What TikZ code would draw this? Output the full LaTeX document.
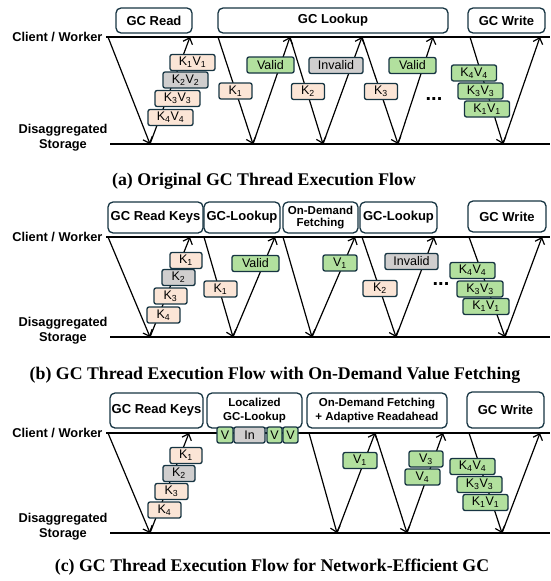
\documentclass[tikz,border=0pt]{standalone}
\usepackage{fontspec}
\setmainfont{Liberation Serif}
\setsansfont{Liberation Sans}
\usetikzlibrary{arrows.meta}

\definecolor{edge}{RGB}{22,52,66}
\definecolor{kfill}{RGB}{251,229,214}
\definecolor{gfill}{RGB}{208,206,206}
\definecolor{vfill}{RGB}{178,224,158}

\newcommand{\kvpair}[1]{K\textsubscript{#1}V\textsubscript{#1}}
\newcommand{\konly}[1]{K\textsubscript{#1}}
\newcommand{\vonly}[1]{V\textsubscript{#1}}

\tikzset{
  phase/.style={draw=edge, line width=1.3pt, rounded corners=5pt, fill=white, inner sep=0pt,
    align=center, font=\sffamily\bfseries\fontsize{13}{13}\selectfont},
  tag/.style={draw=edge, line width=1.3pt, rounded corners=2pt, inner sep=0pt,
    minimum height=16pt, font=\sffamily\fontsize{12.5}{12}\selectfont},
  ktag/.style={tag, fill=kfill},
  itag/.style={tag, fill=gfill},
  vtag/.style={tag, fill=vfill},
  msg/.style={line width=1.2pt, -{Straight Barb[length=5.5pt,width=10pt]}},
  tier/.style={line width=2.2pt},
  side/.style={align=center, font=\sffamily\bfseries\fontsize{12.8}{15}\selectfont},
  subcap/.style={font=\bfseries\fontsize{17.8}{20}\selectfont},
  gap/.style={font=\sffamily\bfseries\fontsize{20}{20}\selectfont}
}

\begin{document}
\begin{tikzpicture}[x=1pt,y=-1pt]
  \useasboundingbox (0,0) rectangle (550,581);

  % ---------------- (a) ----------------
  % Ebenen
  \node[side, anchor=east] (cwA) at (106,37) {Client / Worker};
  \node[side] (dsA) at (63,138) {Disaggregated\\Storage};
  \coordinate (cwAend) at (550,37);
  \coordinate (dsAbeg) at (110,144);
  \coordinate (dsAend) at (550,144);
  \draw[tier] (cwA.east) -- (cwAend);
  \draw[tier] (dsAbeg) -- (dsAend);

  % Phasen
  \node[phase, minimum width=76pt, minimum height=25pt] (readA) at (154,20.5) {GC Read};
  \node[phase, minimum width=230pt, minimum height=25pt] (lookA) at (333,20.5) {GC Lookup};
  \node[phase, minimum width=77pt, minimum height=25pt] (writeA) at (506.5,20.5) {GC Write};

  % Nachrichten
  \coordinate (a1) at (108,37);  \coordinate (a2) at (150,144); \coordinate (a3) at (190,37);
  \coordinate (a4) at (218,37);  \coordinate (a5) at (253,144); \coordinate (a6) at (290,37);
  \coordinate (a7) at (323,144); \coordinate (a8) at (362,37);  \coordinate (a9) at (398,144);
  \coordinate (a10) at (433,37); \coordinate (a11) at (470,37); \coordinate (a12) at (503,144);
  \coordinate (a13) at (540,37);
  \draw[msg] (a1) -- (a2);  \draw[msg] (a2) -- (a3);
  \draw[msg] (a4) -- (a5);  \draw[msg] (a5) -- (a6);
  \draw[msg] (a6) -- (a7);  \draw[msg] (a7) -- (a8);
  \draw[msg] (a8) -- (a9);  \draw[msg] (a9) -- (a10);
  \draw[msg] (a11) -- (a12); \draw[msg] (a12) -- (a13);

  % Daten
  \node[ktag, minimum width=45pt] (akv1) at (192.5,62.5) {\kvpair{1}};
  \node[itag, minimum width=45pt] (akv2) at (185.5,80) {\kvpair{2}};
  \node[ktag, minimum width=45pt] (akv3) at (177.5,98.5) {\kvpair{3}};
  \node[ktag, minimum width=45pt] (akv4) at (170.5,117.5) {\kvpair{4}};
  \node[vtag, minimum width=47pt] (aval1) at (270.5,65) {Valid};
  \node[ktag, minimum width=33pt] (ak1) at (235.5,91) {\konly{1}};
  \node[itag, minimum width=54pt] (ainv) at (336,65.5) {Invalid};
  \node[ktag, minimum width=33pt] (ak2) at (308,91.5) {\konly{2}};
  \node[vtag, minimum width=47pt] (aval2) at (412.5,65.5) {Valid};
  \node[ktag, minimum width=33pt] (ak3) at (381,91.5) {\konly{3}};
  \node[gap] (adots) at (434,99) {...};
  \node[vtag, minimum width=45pt] (aw4) at (474,73) {\kvpair{4}};
  \node[vtag, minimum width=45pt] (aw3) at (480.5,91) {\kvpair{3}};
  \node[vtag, minimum width=45pt] (aw1) at (487,109) {\kvpair{1}};

  \node[subcap] (capA) at (264,181) {(a) Original GC Thread Execution Flow};

  % ---------------- (b) ----------------
  \node[side, anchor=east] (cwB) at (106,237) {Client / Worker};
  \node[side] (dsB) at (63,331) {Disaggregated\\Storage};
  \coordinate (cwBend) at (550,237);
  \coordinate (dsBbeg) at (110,337);
  \coordinate (dsBend) at (550,337);
  \draw[tier] (cwB.east) -- (cwBend);
  \draw[tier] (dsBbeg) -- (dsBend);

  \node[phase, minimum width=95pt, minimum height=31pt] (readB) at (155.5,217.5) {GC Read Keys};
  \node[phase, minimum width=76pt, minimum height=31pt] (lookB1) at (242,217.5) {GC-Lookup};
  \node[phase, minimum width=75pt, minimum height=31pt, font=\sffamily\bfseries\fontsize{11.5}{12.5}\selectfont] (fetchB) at (320.5,217.5) {On-Demand\\Fetching};
  \node[phase, minimum width=77pt, minimum height=31pt] (lookB2) at (398.5,217.5) {GC-Lookup};
  \node[phase, minimum width=78pt, minimum height=31pt] (writeB) at (507,216.5) {GC Write};

  \coordinate (b1) at (108,237);  \coordinate (b2) at (150,337);  \coordinate (b3) at (190,237);
  \coordinate (b4) at (204,237);  \coordinate (b5) at (233,337);  \coordinate (b6) at (275,237);
  \coordinate (b7) at (283,237);  \coordinate (b8) at (312,337);  \coordinate (b9) at (355,237);
  \coordinate (b10) at (362,237); \coordinate (b11) at (396,337); \coordinate (b12) at (434,237);
  \coordinate (b13) at (469,237); \coordinate (b14) at (505,337); \coordinate (b15) at (542,237);
  \draw[msg] (b1) -- (b2);   \draw[msg] (b2) -- (b3);
  \draw[msg] (b4) -- (b5);   \draw[msg] (b5) -- (b6);
  \draw[msg] (b7) -- (b8);   \draw[msg] (b8) -- (b9);
  \draw[msg] (b10) -- (b11); \draw[msg] (b11) -- (b12);
  \draw[msg] (b13) -- (b14); \draw[msg] (b14) -- (b15);

  \node[ktag, minimum width=32pt] (bk1) at (186,260.5) {\konly{1}};
  \node[itag, minimum width=33pt] (bk2) at (178.5,277.5) {\konly{2}};
  \node[ktag, minimum width=33pt] (bk3) at (170.5,296) {\konly{3}};
  \node[ktag, minimum width=33pt] (bk4) at (163.5,315) {\konly{4}};
  \node[vtag, minimum width=47pt] (bval) at (255.5,263.5) {Valid};
  \node[ktag, minimum width=33pt] (bk1b) at (220.5,289) {\konly{1}};
  \node[vtag, minimum width=34pt] (bv1) at (340,263) {\vonly{1}};
  \node[itag, minimum width=53pt] (binv) at (411.5,261.5) {Invalid};
  \node[ktag, minimum width=34pt] (bk2b) at (380,288.5) {\konly{2}};
  \node[gap] (bdots) at (441,284) {...};
  \node[vtag, minimum width=45pt] (bw4) at (472.5,270.5) {\kvpair{4}};
  \node[vtag, minimum width=46pt] (bw3) at (480,289) {\kvpair{3}};
  \node[vtag, minimum width=46pt] (bw1) at (486,306.5) {\kvpair{1}};

  \node[subcap] (capB) at (275,375) {(b) GC Thread Execution Flow with On-Demand Value Fetching};

  % ---------------- (c) ----------------
  \node[side, anchor=east] (cwC) at (106,433) {Client / Worker};
  \node[side] (dsC) at (63,527) {Disaggregated\\Storage};
  \coordinate (cwCend) at (550,433);
  \coordinate (dsCbeg) at (110,533);
  \coordinate (dsCend) at (550,533);
  \draw[tier] (cwC.east) -- (cwCend);
  \draw[tier] (dsCbeg) -- (dsCend);

  \node[phase, minimum width=93pt, minimum height=35pt] (readC) at (156.5,410.5) {GC Read Keys};
  \node[phase, minimum width=95pt, minimum height=35pt, font=\sffamily\bfseries\fontsize{11.5}{13.5}\selectfont] (lookC) at (254.5,410.5) {Localized\\GC-Lookup};
  \node[phase, minimum width=140pt, minimum height=35pt, font=\sffamily\bfseries\fontsize{11.5}{13.5}\selectfont] (fetchC) at (377,410.5) {On-Demand Fetching\\+ Adaptive Readahead};
  \node[phase, minimum width=77pt, minimum height=36pt] (writeC) at (505.5,410) {GC Write};

  % lokale Ergebnisse
  \node[vtag, minimum width=16pt] (cl1) at (225,435) {V};
  \node[itag, minimum width=31pt] (cl2) at (249.5,435) {In};
  \node[vtag, minimum width=15pt] (cl3) at (274.5,435) {V};
  \node[vtag, minimum width=15pt] (cl4) at (290.5,435) {V};

  \coordinate (c1) at (108,433); \coordinate (c2) at (150,533);  \coordinate (c3) at (189,433);
  \coordinate (c4) at (309,433); \coordinate (c5) at (337,533);  \coordinate (c6) at (375,433);
  \coordinate (c7) at (407,533); \coordinate (c8) at (443,433);
  \coordinate (c9) at (469,433); \coordinate (c10) at (502,533); \coordinate (c11) at (540,433);
  \draw[msg] (c1) -- (c2);  \draw[msg] (c2) -- (c3);
  \draw[msg] (c4) -- (c5);  \draw[msg] (c5) -- (c6);
  \draw[msg] (c6) -- (c7);  \draw[msg] (c7) -- (c8);
  \draw[msg] (c9) -- (c10); \draw[msg] (c10) -- (c11);

  \node[ktag, minimum width=32pt] (ck1) at (186,455.5) {\konly{1}};
  \node[itag, minimum width=32pt] (ck2) at (179,473.5) {\konly{2}};
  \node[ktag, minimum width=33pt] (ck3) at (171.5,491.5) {\konly{3}};
  \node[ktag, minimum width=33pt] (ck4) at (164.5,510) {\konly{4}};
  \node[vtag, minimum width=34pt] (cv1) at (360,460.5) {\vonly{1}};
  \node[vtag, minimum width=34pt] (cv3) at (426,459) {\vonly{3}};
  \node[vtag, minimum width=35pt] (cv4) at (422.5,477) {\vonly{4}};
  \node[vtag, minimum width=45pt] (cw4) at (472.5,466.5) {\kvpair{4}};
  \node[vtag, minimum width=45pt] (cw3) at (479.5,484.5) {\kvpair{3}};
  \node[vtag, minimum width=45pt] (cw1) at (485.5,502.5) {\kvpair{1}};

  \node[subcap] (capC) at (272,567) {(c) GC Thread Execution Flow for Network-Efficient GC};
\end{tikzpicture}
\end{document}
